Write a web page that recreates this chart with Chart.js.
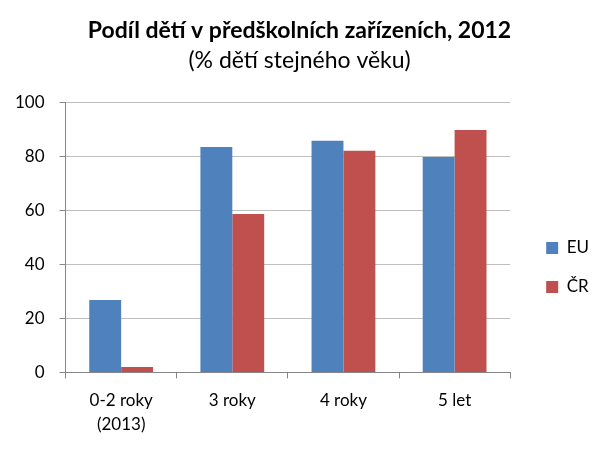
<!DOCTYPE html>
<html>
<head>
<meta charset="utf-8">
<script src="https://cdn.jsdelivr.net/npm/chart.js@4"></script>
<style>
  body { margin: 0; background: #fff; }
  #wrap { width: 605px; height: 449px; }
</style>
</head>
<body>
<div id="wrap"><canvas id="my"></canvas></div>
<script>
var categories = [["0-2 roky", "(2013)"], "3 roky", "4 roky", "5 let"];
var euValues = [26.8, 83.4, 85.7, 79.7];
var crValues = [2.0, 58.6, 82.0, 89.7];
var yTicks = [0, 20, 40, 60, 80, 100];

var font = "Lato, 'Open Sans', sans-serif";

var ctx = document.getElementById("my").getContext('2d');
var myChart = new Chart(ctx, {
    type: 'bar',
    data: {
        labels: categories,
        datasets: [{
            label: 'EU',
            data: euValues,
            backgroundColor: "#4F81BD"
        }, {
            label: 'ČR',
            data: crValues,
            backgroundColor: "#C0504D"
        }]
    },
    options: {
        responsive: true,
        maintainAspectRatio: false,
        animation: false,
        layout: { padding: { left: 0, right: 6, top: 17, bottom: 3 } },
        datasets: {
            bar: { categoryPercentage: 0.574, barPercentage: 1.0 }
        },
        plugins: {
            title: {
                display: true,
                text: 'Podíl dětí v předškolních zařízeních, 2012',
                color: '#000',
                font: { family: font, size: 23, weight: 'bold' },
                padding: { top: 0, bottom: 2 }
            },
            subtitle: {
                display: true,
                text: '(% dětí stejného věku)',
                color: '#000',
                font: { family: font, size: 23 },
                padding: { top: 0, bottom: 28 }
            },
            legend: {
                position: 'right',
                title: {
                    display: true,
                    text: ' ',
                    font: { size: 10 },
                    padding: { top: 30, bottom: 30 }
                },
                labels: {
                    color: '#000',
                    font: { family: font, size: 17 },
                    boxWidth: 12,
                    boxHeight: 12,
                    padding: 22
                }
            },
            tooltip: { enabled: false }
        },
        scales: {
            x: {
                grid: {
                    offset: true,
                    drawOnChartArea: false,
                    color: '#868686',
                    tickLength: 6
                },
                border: { color: '#868686' },
                ticks: {
                    color: '#000',
                    font: { family: font, size: 17, lineHeight: 1.4 },
                    padding: 10
                }
            },
            y: {
                min: 0,
                max: 100,
                afterBuildTicks: function (axis) {
                    axis.ticks = yTicks.map(function (v) { return { value: v }; });
                },
                grid: {
                    color: '#bfbfbf',
                    tickLength: 6,
                    tickColor: '#868686'
                },
                border: { color: '#868686' },
                ticks: {
                    color: '#000',
                    font: { family: font, size: 17 },
                    padding: 15
                }
            },
            // empty axis on the right, only keeps the legend away from the bars
            gap: {
                position: 'right',
                display: true,
                grid: { display: false },
                border: { display: false },
                ticks: { display: false },
                afterFit: function (scale) { scale.width = 14; }
            }
        }
    }
});
</script>
</body>
</html>
